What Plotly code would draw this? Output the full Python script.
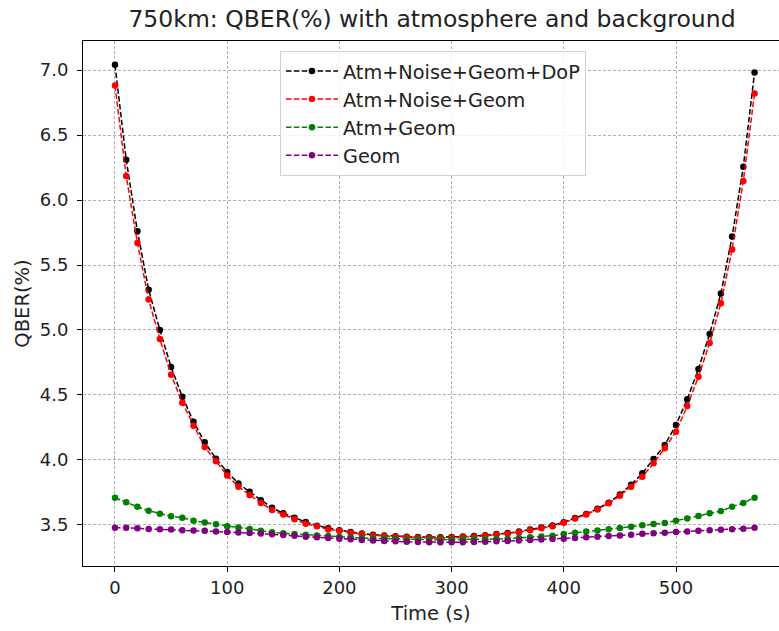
import plotly.graph_objects as go

time_s = list(range(0, 580, 10))

qber_dop = [7.04, 6.31, 5.76, 5.31, 5.00, 4.715, 4.487, 4.295, 4.136, 4.01,
            3.908, 3.82, 3.755, 3.69, 3.632, 3.59, 3.556, 3.523, 3.495, 3.475,
            3.46, 3.446, 3.435, 3.425, 3.419, 3.414, 3.41, 3.408, 3.406, 3.406,
            3.408, 3.411, 3.415, 3.422, 3.43, 3.438, 3.45, 3.465, 3.48, 3.496,
            3.522, 3.553, 3.585, 3.625, 3.672, 3.735, 3.81, 3.898, 4.008, 4.115,
            4.27, 4.467, 4.70, 4.97, 5.28, 5.72, 6.256, 6.98]

qber_noise = [6.88, 6.185, 5.67, 5.235, 4.93, 4.656, 4.44, 4.264, 4.10, 3.99,
              3.88, 3.795, 3.73, 3.67, 3.615, 3.58, 3.544, 3.51, 3.49, 3.465,
              3.455, 3.44, 3.43, 3.42, 3.415, 3.41, 3.405, 3.403, 3.40, 3.40,
              3.403, 3.407, 3.41, 3.418, 3.426, 3.433, 3.444, 3.46, 3.475, 3.49,
              3.518, 3.55, 3.58, 3.62, 3.667, 3.725, 3.795, 3.872, 3.975, 4.09,
              4.218, 4.415, 4.64, 4.90, 5.205, 5.62, 6.146, 6.82]

qber_atm = [3.71, 3.674, 3.64, 3.61, 3.587, 3.567, 3.556, 3.533, 3.52, 3.505,
            3.49, 3.48, 3.47, 3.456, 3.444, 3.436, 3.43, 3.425, 3.42, 3.415,
            3.41, 3.405, 3.40, 3.397, 3.394, 3.391, 3.389, 3.388, 3.387, 3.387,
            3.387, 3.388, 3.389, 3.39, 3.392, 3.395, 3.40, 3.405, 3.412, 3.418,
            3.43, 3.44, 3.449, 3.457, 3.467, 3.477, 3.487, 3.498, 3.507, 3.516,
            3.533, 3.55, 3.57, 3.59, 3.607, 3.64, 3.67, 3.71]

qber_geom = [3.479, 3.479, 3.475, 3.47, 3.467, 3.465, 3.46, 3.457, 3.455, 3.45,
             3.447, 3.442, 3.438, 3.434, 3.428, 3.423, 3.417, 3.41, 3.405, 3.40,
             3.395, 3.39, 3.385, 3.38, 3.377, 3.374, 3.371, 3.369, 3.368, 3.367,
             3.367, 3.368, 3.369, 3.371, 3.374, 3.377, 3.38, 3.384, 3.388, 3.392,
             3.395, 3.40, 3.405, 3.41, 3.416, 3.42, 3.425, 3.432, 3.436, 3.44,
             3.447, 3.45, 3.456, 3.459, 3.464, 3.468, 3.472, 3.479]

series = [
    ("Atm+Noise+Geom+DoP", qber_dop, "black"),
    ("Atm+Noise+Geom", qber_noise, "red"),
    ("Atm+Geom", qber_atm, "green"),
    ("Geom", qber_geom, "purple"),
]

fig = go.Figure()
for i, (name, vals, col) in enumerate(series):
    fig.add_trace(go.Scatter(
        x=time_s, y=vals, name=name, mode="lines+markers",
        line=dict(color=col, width=1.5, dash="5.5px,2.4px"),
        marker=dict(color=col, size=6.5),
        legendgroup=str(i),
    ))

font = "DejaVu Sans, sans-serif"
grid_dash = "3px,2px"
fig.update_layout(
    width=779, height=631,
    margin=dict(l=83, r=0, t=41, b=65),
    paper_bgcolor="white", plot_bgcolor="white",
    font=dict(family=font, size=18, color="#222"),
    title=dict(text="750km: QBER(%) with atmosphere and background",
               x=432/779, xanchor="center", y=1-19/631, yanchor="middle",
               font=dict(size=23.5, color="#222")),
    showlegend=True,
    legend=dict(x=0.283, y=0.981, xanchor="left", yanchor="top",
                bgcolor="rgba(255,255,255,0.8)", bordercolor="#d0d0d0", borderwidth=1,
                font=dict(size=19.3, color="#222"), tracegroupgap=0,
                traceorder="grouped", itemwidth=52),
)
fig.update_xaxes(
    range=[-28.5, 591.8], tickvals=[0, 100, 200, 300, 400, 500],
    showline=True, linecolor="black", linewidth=1, mirror=True,
    ticks="outside", ticklen=5, tickcolor="black",
    showgrid=True, gridcolor="#b0b0b0", griddash=grid_dash, gridwidth=0.8,
    zeroline=False, tickfont=dict(size=18),
    title=dict(text="Time (s)", font=dict(size=19.5), standoff=9),
)
fig.update_yaxes(
    range=[3.1845, 7.2231], tickvals=[3.5, 4.0, 4.5, 5.0, 5.5, 6.0, 6.5, 7.0],
    ticktext=["3.5", "4.0", "4.5", "5.0", "5.5", "6.0", "6.5", "7.0"],
    showline=True, linecolor="black", linewidth=1, mirror=False,
    ticks="outside", ticklen=5, tickcolor="black",
    showgrid=True, gridcolor="#b0b0b0", griddash=grid_dash, gridwidth=0.8,
    zeroline=False, tickfont=dict(size=18), ticklabelstandoff=5,
    title=dict(text="QBER(%)", font=dict(size=19.5), standoff=4),
)

fig.write_html("out.html")
